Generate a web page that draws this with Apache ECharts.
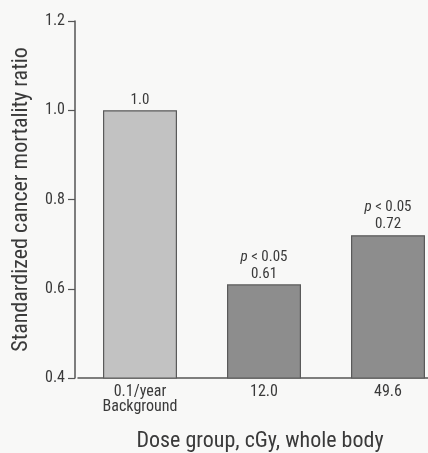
<!DOCTYPE html>
<html><head><meta charset="utf-8">
<script src="https://cdn.jsdelivr.net/npm/echarts@6/dist/echarts.min.js"></script>
<style>html,body{margin:0;padding:0;background:#f8f8f7;}#c{width:428px;height:453px;}</style>
</head><body><div id="c"></div>
<script>
const categories = ['0.1/year\nBackground', '12.0', '49.6'];
const values = [1.0, 0.61, 0.72];
const valueLabels = ['1.0', '0.61', '0.72'];
const pLabels = ['', 'p < 0.05', 'p < 0.05'];
const yTicks = [0.4, 0.6, 0.8, 1.0, 1.2];
const barColors = ['#c2c2c2', '#8d8d8d', '#8d8d8d'];

const FONT = '"Liberation Sans Narrow", "Roboto Condensed", "Liberation Sans", sans-serif';
const TXT = '#3a3a3a';
const chart = echarts.init(document.getElementById('c'));
chart.setOption({
  backgroundColor: '#f8f8f7',
  animation: false,
  grid: { left: 78, top: 21, width: 372, height: 357, containLabel: false, outerBoundsMode: 'none' },
  xAxis: {
    type: 'category',
    data: categories,
    axisLine: { lineStyle: { color: '#555', width: 1.5 } },
    axisTick: { show: false },
    axisLabel: { color: TXT, fontFamily: FONT, fontSize: 16, lineHeight: 15, margin: 6 },
    name: 'Dose group, cGy, whole body',
    nameLocation: 'middle',
    nameGap: 52,
    nameTextStyle: { color: TXT, fontFamily: FONT, fontSize: 22, padding: [0, 8, 0, 0] }
  },
  yAxis: {
    type: 'value',
    min: 0.4, max: 1.2, interval: 0.2,
    offset: 3,
    axisLine: { show: true, lineStyle: { color: '#555', width: 1.5 } },
    axisTick: { show: true, length: 7, lineStyle: { color: '#555', width: 1.2 } },
    splitLine: { show: false },
    axisLabel: {
      color: TXT, fontFamily: FONT, fontSize: 16, margin: 10,
      formatter: v => yTicks.find(t => Math.abs(t - v) < 1e-9).toFixed(1)
    },
    name: 'Standardized cancer mortality ratio',
    nameLocation: 'middle',
    nameGap: 43,
    nameTextStyle: { color: TXT, fontFamily: FONT, fontSize: 22 }
  },
  series: [{
    type: 'bar',
    barWidth: 74,
    data: values.map((v, i) => ({ value: v, itemStyle: { color: barColors[i] } })),
    itemStyle: { borderColor: '#5a5a5a', borderWidth: 1.2 },
    label: {
      show: true,
      position: 'top',
      distance: 2,
      fontFamily: FONT,
      color: TXT,
      fontSize: 15,
      lineHeight: 17,
      formatter: p => pLabels[p.dataIndex] ? '{i|p} < 0.05\n' + valueLabels[p.dataIndex] : valueLabels[p.dataIndex],
      rich: { i: { fontStyle: 'italic', fontFamily: FONT, fontSize: 15, color: TXT } }
    }
  }]
});
</script></body></html>
